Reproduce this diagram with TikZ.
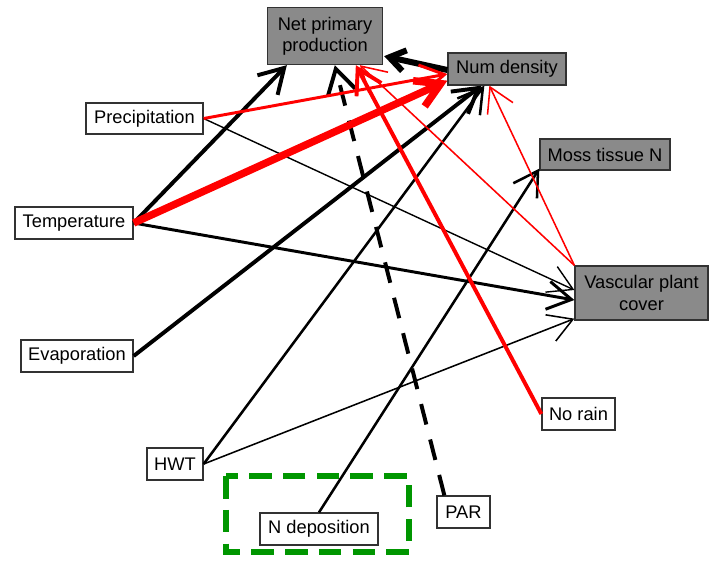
\documentclass[tikz,border=0pt]{standalone}
\usepackage{fontspec}
\setmainfont{Liberation Sans}
\usetikzlibrary{arrows.meta, calc}
\definecolor{boxgray}{RGB}{138,138,138}
\definecolor{boxline}{RGB}{50,50,50}
\definecolor{depgreen}{RGB}{0,150,0}

\begin{document}
\begin{tikzpicture}[
		x=0.025cm, y=-0.025cm,
		every node/.style={rectangle, draw=boxline, line width=0.9pt, inner sep=0pt, align=center, font=\fontsize{13pt}{15pt}\selectfont},
		driver/.style={fill=white},
		outcome/.style={fill=boxgray},
		link/.style={-{Straight Barb[length=17pt, width=20pt]}},
		neg/.style={red}
	]
  \useasboundingbox (0,0) rectangle (714,561);
  % frame round the deposition node
  \draw [depgreen, line width=4.3pt, dash pattern=on 16pt off 8pt] (226,476) rectangle (409,552);
  % responses
  \node (net_prod) [outcome, minimum width=2.875cm, minimum height=1.425cm] at (325,36) {Net primary\\production};
  \node (num_dens) [outcome, minimum width=2.95cm, minimum height=0.8cm] at (507,69) {Num density};
  \node (moss_n) [outcome, minimum width=3.25cm, minimum height=0.775cm] at (605,154.5) {Moss tissue N};
  \node (vasc) [outcome, minimum width=3.325cm, minimum height=1.35cm] at (641.5,293) {Vascular plant\\cover};
  % drivers
  \node (precip) [driver, minimum width=2.925cm, minimum height=0.775cm] at (144.5,118.5) {Precipitation};
  \node (temp) [driver, minimum width=2.95cm, minimum height=0.8cm] at (74,223) {Temperature};
  \node (evap) [driver, minimum width=2.8cm, minimum height=0.8cm] at (77,356) {Evaporation};
  \node (no_rain) [driver, minimum width=1.825cm, minimum height=0.8cm] at (578.5,414) {No rain};
  \node (hwt) [driver, minimum width=1.4cm, minimum height=0.8cm] at (175,464) {HWT};
  \node (n_dep) [driver, minimum width=2.95cm, minimum height=0.8cm] at (319,529) {N deposition};
  \node (par) [driver, minimum width=1.325cm, minimum height=0.8cm] at (463.5,512) {PAR};
  % positive paths
  \draw [link, line width=2.8pt] (temp.east) -- ($(net_prod.south west)+(20,0)$);
  \draw [link, line width=2.1pt] (temp.east) -- ($(vasc.west)+(0,7)$);
  \draw [link, line width=1pt] (precip.east) -- ($(vasc.west)+(0,-3)$);
  \draw [link, line width=2.8pt] (evap.east) -- ($(num_dens.south west)+(34,0)$);
  \draw [link, line width=1.8pt] (hwt.east) -- ($(num_dens.south west)+(37,0)$);
  \draw [link, line width=1.1pt] (hwt.east) -- ($(vasc.south west)+(0,-2)$);
  \draw [link, line width=1.8pt] (n_dep.north) -- ($(moss_n.south west)+(0,-2)$);
  \draw [link, line width=2.8pt, dash pattern=on 15pt off 11pt] ($(par.north west)+(8,0)$) -- ($(net_prod.south west)+(68,0)$);
  \draw [-{Straight Barb[length=11pt, width=15pt]}, line width=4.3pt] ($(num_dens.west)+(0,1)$) -- ($(net_prod.south east)+(1,-9)$);
  % negative paths
  \draw [link, neg, line width=2.1pt] (precip.east) -- ($(num_dens.west)+(0,5)$);
  \draw [link, neg, line width=5.3pt] (temp.east) -- ($(num_dens.south west)+(0,-5)$);
  \draw [link, neg, line width=2.8pt] (no_rain.west) -- ($(net_prod.south west)+(89,0)$);
  \draw [link, neg, line width=1.1pt] (vasc.north west) -- ($(net_prod.south west)+(93,0)$);
  \draw [link, neg, line width=1.1pt] (vasc.north west) -- ($(num_dens.south west)+(42,0)$);
\end{tikzpicture}
\end{document}
